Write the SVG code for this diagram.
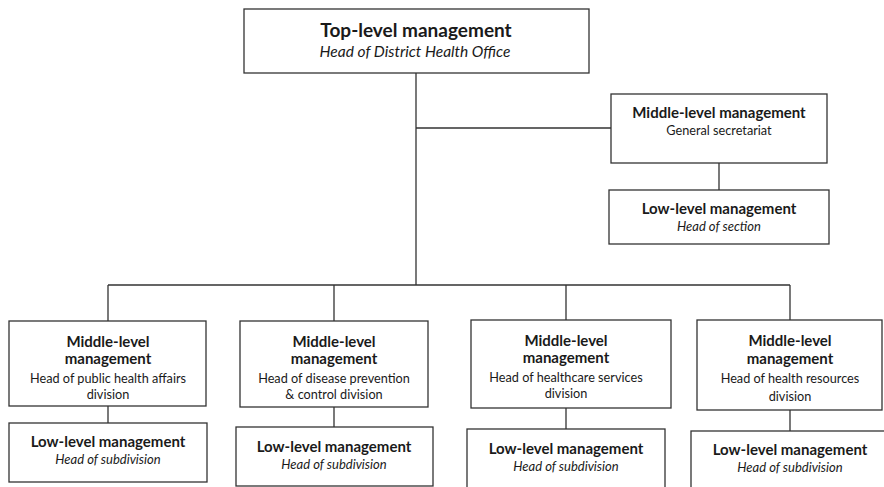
<svg xmlns="http://www.w3.org/2000/svg" width="884" height="487" viewBox="0 0 884 487">
<style>
.box{fill:#fff;stroke:#333;stroke-width:1.3}
.con{fill:none;stroke:#333;stroke-width:1.3}
text{font-family:Lato,"Open Sans","Liberation Sans",sans-serif;fill:#1a1a1a;text-anchor:middle}
.t{font-size:19px;font-weight:bold}
.b{font-size:15px;font-weight:bold}
.r{font-size:12.7px}
.i{font-size:13px;font-style:italic}
.ti{font-size:15.5px;font-style:italic}
</style>
<rect width="884" height="487" fill="#fff"/>
<g id="connectors">
<path class="con" d="M416 73V285M416 128H611M719 163V190M108 285H790M108 285V321M334 285V321M566 285V320M790 285V320M108 406V423M334 407V427M566 408V429M790 410V431"/>
</g>
<g id="top">
<rect class="box" x="244" y="9" width="345" height="64"/>
<text class="t" x="416" y="37">Top-level management</text>
<text class="ti" x="415" y="57">Head of District Health Office</text>
</g>
<g id="mid-secretariat">
<rect class="box" x="611" y="94" width="216" height="69"/>
<text class="b" x="719" y="118">Middle-level management</text>
<text class="r" x="719" y="135">General secretariat</text>
</g>
<g id="low-section">
<rect class="box" x="609" y="190" width="220" height="54"/>
<text class="b" x="719" y="214">Low-level management</text>
<text class="i" x="719" y="231">Head of section</text>
</g>
<g id="mid-public">
<rect class="box" x="9" y="321" width="197" height="85"/>
<text class="b" x="108" y="347">Middle-level</text>
<text class="b" x="108" y="364">management</text>
<text class="r" x="108" y="383">Head of public health affairs</text>
<text class="r" x="108" y="399">division</text>
</g>
<g id="low-public">
<rect class="box" x="9" y="423" width="198" height="59"/>
<text class="b" x="108" y="447">Low-level management</text>
<text class="i" x="108" y="464">Head of subdivision</text>
</g>
<g id="mid-disease">
<rect class="box" x="240" y="321" width="188" height="86"/>
<text class="b" x="334" y="347">Middle-level</text>
<text class="b" x="334" y="364">management</text>
<text class="r" x="334" y="383">Head of disease prevention</text>
<text class="r" x="334" y="399">&amp; control division</text>
</g>
<g id="low-disease">
<rect class="box" x="236" y="427" width="197" height="59"/>
<text class="b" x="334" y="452">Low-level management</text>
<text class="i" x="334" y="469">Head of subdivision</text>
</g>
<g id="mid-healthcare">
<rect class="box" x="471" y="320" width="200" height="88"/>
<text class="b" x="566" y="346">Middle-level</text>
<text class="b" x="566" y="363">management</text>
<text class="r" x="566" y="382">Head of healthcare services</text>
<text class="r" x="566" y="398">division</text>
</g>
<g id="low-healthcare">
<rect class="box" x="467" y="429" width="198" height="66"/>
<text class="b" x="566" y="454">Low-level management</text>
<text class="i" x="566" y="471">Head of subdivision</text>
</g>
<g id="mid-resources">
<rect class="box" x="697" y="320" width="185" height="90"/>
<text class="b" x="790" y="346">Middle-level</text>
<text class="b" x="790" y="364">management</text>
<text class="r" x="790" y="383">Head of health resources</text>
<text class="r" x="790" y="401">division</text>
</g>
<g id="low-resources">
<rect class="box" x="691" y="431" width="200" height="64"/>
<text class="b" x="790" y="455">Low-level management</text>
<text class="i" x="790" y="472">Head of subdivision</text>
</g>
</svg>
